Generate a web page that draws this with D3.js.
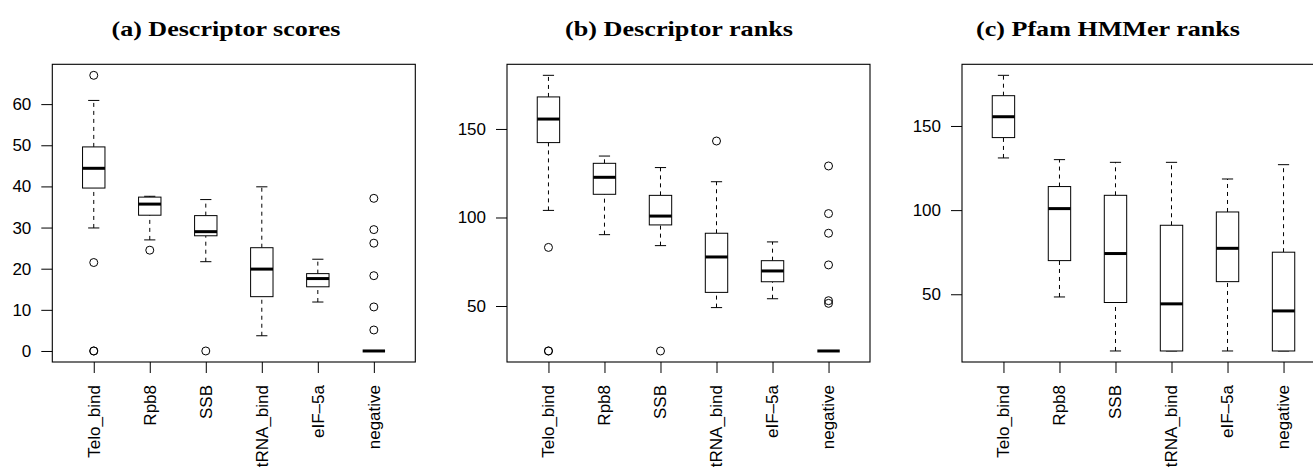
<!DOCTYPE html>
<html>
<head>
<meta charset="utf-8">
<script src="https://cdn.jsdelivr.net/npm/d3@7"></script>
<style>
    body { margin: 0; background: #fff; }
    .title { font-family: 'Liberation Serif', 'Times New Roman', serif; font-weight: bold; font-size: 21px; }
    .tick-label { font-family: 'Liberation Sans', Arial, sans-serif; font-size: 17px; fill: #000; }
</style>
</head>
<body>
<div id="chart"></div>
<script>
const categories = ['Telo_bind', 'Rpb8', 'SSB', 'tRNA_bind', 'eIF\u20135a', 'negative'];

// [lower whisker, Q1, median, Q3, upper whisker]
const scoreStats = [
    [29.9, 39.6, 44.4, 49.6, 60.9],
    [27.0, 33.0, 35.7, 37.4, 37.6],
    [21.7, 28.0, 29.0, 32.9, 36.8],
    [3.7, 13.2, 19.9, 25.1, 39.9],
    [11.9, 15.6, 17.6, 18.8, 22.3],
    [0, 0, 0, 0, 0]
];
const scoreOutliers = [[67.0, 21.5, 0, 0], [24.5], [0], [], [], [37.1, 29.5, 26.2, 18.3, 10.7, 5.1]];
const scoreTicks = [0, 10, 20, 30, 40, 50, 60];

const rankStats = [
    [104.0, 142.3, 155.6, 168.1, 180.3],
    [90.3, 113.1, 122.7, 130.6, 134.7],
    [84.1, 95.8, 100.8, 112.5, 128.2],
    [49.1, 57.7, 77.7, 91.1, 120.2],
    [54.1, 63.7, 69.8, 75.6, 86.2],
    [24.6, 24.6, 24.6, 24.6, 24.6]
];
const rankOutliers = [[83.1, 24.6, 24.6], [], [24.6], [143.2], [], [129.1, 102.2, 91.1, 73.2, 53.0, 51.5]];
const rankTicks = [50, 100, 150];

const pfamStats = [
    [131.0, 143.1, 155.5, 168.0, 180.1],
    [48.4, 70.0, 100.9, 114.0, 130.0],
    [16.3, 45.1, 74.2, 108.8, 128.4],
    [16.3, 16.3, 44.3, 91.0, 128.4],
    [16.3, 57.5, 77.3, 98.9, 118.5],
    [16.3, 16.3, 40.1, 75.0, 127.0]
];
const pfamOutliers = [[], [], [], [], [], []];
const pfamTicks = [50, 100, 150];

const titles = ['(a) Descriptor scores', '(b) Descriptor ranks', '(c) Pfam HMMer ranks'];

const width = 1313;
const height = 468;

const panels = [
    { stats: scoreStats, outliers: scoreOutliers, ticks: scoreTicks, left: 52.3, title: titles[0], titleX: 226, titleW: 229 },
    { stats: rankStats, outliers: rankOutliers, ticks: rankTicks, left: 507, title: titles[1], titleX: 679, titleW: 228 },
    { stats: pfamStats, outliers: pfamOutliers, ticks: pfamTicks, left: 962, title: titles[2], titleX: 1108, titleW: 264 }
];

const plotTop = 64.3;
const plotBottom = 362;
const plotWidth = 363;

const svg = d3.select('#chart').append('svg')
    .attr('width', width)
    .attr('height', height);

// R style range: data extent padded by 4%
const paddedExtent = (stats, outliers) => {
    const all = stats.flat().concat(outliers.flat());
    const [lo, hi] = d3.extent(all);
    const pad = (hi - lo) * 0.04;
    return [lo - pad, hi + pad];
};

panels.forEach(p => {
    const x = d3.scaleLinear().domain([0.26, categories.length + 0.74]).range([p.left, p.left + plotWidth]);
    const y = d3.scaleLinear().domain(paddedExtent(p.stats, p.outliers)).range([plotBottom, plotTop]);
    const boxW = (x(1.4) - x(1));
    const g = svg.append('g');

    g.append('text')
        .attr('class', 'title')
        .attr('x', p.titleX)
        .attr('y', 36)
        .attr('text-anchor', 'middle')
        .attr('textLength', p.titleW)
        .attr('lengthAdjust', 'spacingAndGlyphs')
        .text(p.title);

    // y axis
    const yAxis = g.append('g')
        .attr('transform', `translate(${p.left},0)`)
        .call(d3.axisLeft(y).tickValues(p.ticks).tickSize(11).tickPadding(10).tickFormat(d3.format('d')));
    yAxis.select('.domain').remove();
    yAxis.selectAll('line').attr('stroke', '#000');
    yAxis.selectAll('text').attr('class', 'tick-label').attr('font-size', null).attr('font-family', null);

    // x axis
    const xAxis = g.append('g')
        .attr('transform', `translate(0,${plotBottom})`)
        .call(d3.axisBottom(x).tickValues(d3.range(1, categories.length + 1)).tickSize(11).tickFormat(''));
    xAxis.select('.domain').remove();
    xAxis.selectAll('line').attr('stroke', '#000');

    g.append('g').selectAll('text')
        .data(categories)
        .join('text')
        .attr('class', 'tick-label')
        .attr('transform', (d, i) => `translate(${x(i + 1)},385) rotate(-90)`)
        .attr('text-anchor', 'end')
        .attr('dy', '0.35em')
        .text(d => d);

    // frame
    g.append('rect')
        .attr('x', p.left)
        .attr('y', plotTop)
        .attr('width', plotWidth)
        .attr('height', plotBottom - plotTop)
        .attr('fill', 'none')
        .attr('stroke', '#000')
        .attr('stroke-width', 1.1);

    const boxes = g.append('g').selectAll('g')
        .data(p.stats)
        .join('g')
        .attr('transform', (d, i) => `translate(${x(i + 1)},0)`);

    // whiskers
    boxes.append('line')
        .attr('y1', d => y(d[0])).attr('y2', d => y(d[1]))
        .attr('stroke', '#000').attr('stroke-dasharray', '4,4');
    boxes.append('line')
        .attr('y1', d => y(d[3])).attr('y2', d => y(d[4]))
        .attr('stroke', '#000').attr('stroke-dasharray', '4,4');

    // staples
    [0, 4].forEach(k => {
        boxes.append('line')
            .attr('x1', -boxW / 4).attr('x2', boxW / 4)
            .attr('y1', d => y(d[k])).attr('y2', d => y(d[k]))
            .attr('stroke', '#000');
    });

    boxes.append('rect')
        .attr('x', -boxW / 2)
        .attr('width', boxW)
        .attr('y', d => y(d[3]))
        .attr('height', d => y(d[1]) - y(d[3]))
        .attr('fill', '#fff')
        .attr('stroke', '#000');

    boxes.append('line')
        .attr('x1', -boxW / 2).attr('x2', boxW / 2)
        .attr('y1', d => y(d[2])).attr('y2', d => y(d[2]))
        .attr('stroke', '#000').attr('stroke-width', 3);

    boxes.each(function (d, i) {
        d3.select(this).selectAll('circle')
            .data(p.outliers[i])
            .join('circle')
            .attr('cy', v => y(v))
            .attr('r', 4)
            .attr('fill', 'none')
            .attr('stroke', '#000');
    });
});
</script>
</body>
</html>
